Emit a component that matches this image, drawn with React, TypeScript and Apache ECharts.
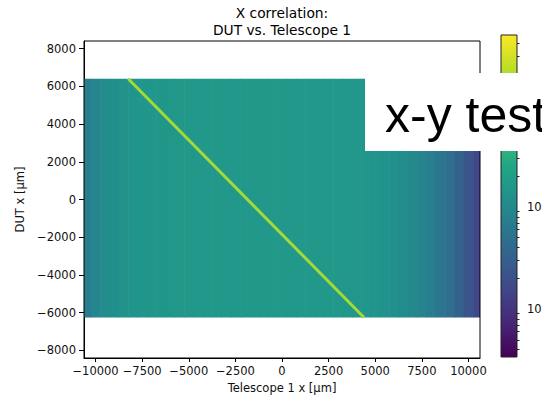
import React, { useEffect, useRef } from "react";
import * as echarts from "echarts";

// ---------- data ----------
const telescopeX = [
  -10500, -10000, -9500, -9000, -8500, -8000, -7500, -7000, -6500, -6000, -5500,
  -5000, -4500, -4000, -3500, -3000, -2500, -2000, -1500, -1000, -500, 0,
  500, 1000, 1500, 2000, 2500, 3000, 3500, 4000, 4500, 5000, 5500,
  6000, 6500, 7000, 7500, 8000, 8500, 9000, 9500, 10000, 10500,
];
// log10(counts) per telescope-x column
const columnLogCounts = [
  2.86, 2.97, 3.05, 3.1, 3.13, 3.15, 3.17, 3.18, 3.19, 3.19, 3.2,
  3.2, 3.2, 3.21, 3.21, 3.21, 3.21, 3.21, 3.21, 3.21, 3.21, 3.21,
  3.21, 3.21, 3.21, 3.2, 3.2, 3.2, 3.19, 3.18, 3.17, 3.15, 3.12,
  3.09, 3.05, 3.0, 2.94, 2.86, 2.77, 2.66, 2.52, 2.36, 2.18,
];
const binWidth = 500;
const dutRange = [-6250, 6400];
// correlation diagonal
const diagTelescopeX = [-8250, 4400];
const diagDutX = [6400, -6250];
const diagLogCount = 4.25;

const xTicks = [-10000, -7500, -5000, -2500, 0, 2500, 5000, 7500, 10000];
const yTicks = [-8000, -6000, -4000, -2000, 0, 2000, 4000, 6000, 8000];
const colorbarExponents = [2, 3, 4];
const colorbarLabelExponents = [2, 3];
const colorMin = 1.53;
const colorMax = 4.686;

const viridis = [
  "#440154", "#482475", "#414487", "#355f8d", "#2a788e", "#21918c",
  "#22a884", "#44bf70", "#7ad151", "#bddf26", "#fde725",
];

function hexToRgb(h: string) {
  return [1, 3, 5].map((i) => parseInt(h.slice(i, i + 2), 16));
}
function viridisAt(t: number) {
  const c = Math.max(0, Math.min(1, t)) * (viridis.length - 1);
  const i = Math.min(viridis.length - 2, Math.floor(c));
  const f = c - i;
  const a = hexToRgb(viridis[i]);
  const b = hexToRgb(viridis[i + 1]);
  const m = a.map((v, k) => Math.round(v + (b[k] - v) * f));
  return `rgb(${m[0]},${m[1]},${m[2]})`;
}

const minorTickValues: number[] = [];
for (let n = 1; n <= 4; n++) {
  for (let k = 2; k <= 9; k++) {
    const v = Math.log10(k * Math.pow(10, n));
    if (v > colorMin && v < colorMax) minorTickValues.push(v);
  }
}

const FONT = "DejaVu Sans";
const minus = (v: number) => String(v).replace("-", "\u2212");

const CB = { x: 501, y: 35, w: 16, h: 322 };

export default function App() {
  const ref = useRef<HTMLDivElement>(null);
  useEffect(() => {
    if (!ref.current) return;
    const chart = echarts.init(ref.current, undefined, { renderer: "svg" });
    const heatData = telescopeX.map((x, i) => [x, dutRange[1], dutRange[0], columnLogCounts[i]]);
    const option: any = {
      animation: false,
      backgroundColor: "#fff",
      textStyle: { fontFamily: FONT },
      grid: [
        {
          left: 84, right: 62, top: 41, bottom: 40, show: true, borderColor: "#000", borderWidth: 1, z: 5,
          outerBoundsMode: "none", containLabel: false,
        },
        {
          left: CB.x, width: CB.w, top: CB.y, height: CB.h, show: true, borderColor: "#222", borderWidth: 1, z: 10,
          outerBoundsMode: "none", containLabel: false,
        },
      ],
      xAxis: [
        {
          type: "value", gridIndex: 0, min: -10620, max: 10620,
          splitLine: { show: false },
          axisLine: { show: true, onZero: false, lineStyle: { color: "#000" } },
          axisTick: { show: true, length: 4, customValues: xTicks, lineStyle: { color: "#000" } },
          axisLabel: { customValues: xTicks, formatter: minus, color: "#111", fontSize: 11.5, margin: 7, fontFamily: FONT },
          name: "Telescope 1 x [µm]", nameLocation: "middle", nameGap: 20,
          nameTextStyle: { color: "#111", fontSize: 11.5, fontFamily: FONT },
        },
        { type: "value", gridIndex: 1, min: 0, max: 1, show: false },
      ],
      yAxis: [
        {
          type: "value", gridIndex: 0, min: -8400, max: 8400,
          splitLine: { show: false },
          axisLine: { show: true, onZero: false, lineStyle: { color: "#000" } },
          axisTick: { show: true, length: 5, customValues: yTicks, lineStyle: { color: "#000" } },
          axisLabel: { customValues: yTicks, formatter: minus, color: "#111", fontSize: 11.5, margin: 8, fontFamily: FONT },
          name: "DUT x [µm]", nameLocation: "middle", nameGap: 55, nameRotate: 90,
          nameTextStyle: { color: "#111", fontSize: 11.5, fontFamily: FONT },
        },
        {
          type: "value", gridIndex: 1, min: colorMin, max: colorMax, position: "right",
          splitLine: { show: false }, axisLine: { show: false },
          axisTick: { show: true, length: 4, customValues: colorbarExponents, lineStyle: { color: "#222" } },
          axisLabel: {
            customValues: colorbarLabelExponents, margin: 10, color: "#111", align: "left",
            formatter: (v: number) => `{b|10}{s|${v}}`,
            rich: {
              b: { fontSize: 11.5, fontFamily: FONT, color: "#111" },
              s: { fontSize: 8, fontFamily: FONT, color: "#111", padding: [0, 0, 8, 0] },
            },
          },
        },
        {
          type: "value", gridIndex: 1, min: colorMin, max: colorMax, position: "right",
          splitLine: { show: false }, axisLine: { show: false },
          axisTick: { show: true, length: 2.5, customValues: minorTickValues, lineStyle: { color: "#222" } },
          axisLabel: { show: false },
        },
      ],
      visualMap: {
        type: "continuous",
        show: false,
        seriesIndex: 0,
        dimension: 3,
        min: colorMin,
        max: colorMax,
        inRange: { color: viridis },
      },
      series: [
        {
          type: "custom",
          xAxisIndex: 0,
          yAxisIndex: 0,
          clip: true,
          encode: { x: 0, y: [1, 2] },
          data: heatData,
          renderItem: (params: any, api: any) => {
            const x = api.value(0);
            const p1 = api.coord([x - binWidth / 2, api.value(1)]);
            const p2 = api.coord([x + binWidth / 2, api.value(2)]);
            return {
              type: "rect",
              shape: { x: p1[0], y: p1[1], width: p2[0] - p1[0] + 0.6, height: p2[1] - p1[1] },
              style: { fill: api.visual("color") },
            };
          },
          z: 1,
        },
        {
          type: "line",
          xAxisIndex: 0,
          yAxisIndex: 0,
          data: diagTelescopeX.map((x, i) => [x, diagDutX[i]]),
          showSymbol: false,
          symbol: "none",
          lineStyle: { width: 3, color: viridisAt((diagLogCount - colorMin) / (colorMax - colorMin)) },
          z: 3,
        },
      ],
      graphic: [
        {
          type: "rect", z: 8, silent: true,
          shape: { x: CB.x, y: CB.y, width: CB.w, height: CB.h },
          style: {
            fill: {
              type: "linear", x: 0, y: 1, x2: 0, y2: 0,
              colorStops: viridis.map((c, i) => ({ offset: i / (viridis.length - 1), color: c })),
            },
          },
        },
        {
          type: "text", x: 282, y: 13, z: 50,
          style: { text: "X correlation:", fontSize: 13.8, fontFamily: FONT, fill: "#000", align: "center", verticalAlign: "middle" },
        },
        {
          type: "text", x: 282, y: 30, z: 50,
          style: { text: "DUT vs. Telescope 1", fontSize: 13.8, fontFamily: FONT, fill: "#000", align: "center", verticalAlign: "middle" },
        },
        {
          type: "rect", z: 100,
          shape: { x: 365, y: 73, width: 200, height: 78 },
          style: { fill: "#fff" },
        },
        {
          type: "text", x: 385, y: 115, z: 101,
          style: { text: "x-y test", fontSize: 50, fontFamily: "Liberation Sans", fill: "#000", align: "left", verticalAlign: "middle" },
        },
      ],
    };
    chart.setOption(option);
    return () => chart.dispose();
  }, []);
  return <div ref={ref} style={{ position: "fixed", left: 0, top: 0, width: 542, height: 398 }} />;
}
